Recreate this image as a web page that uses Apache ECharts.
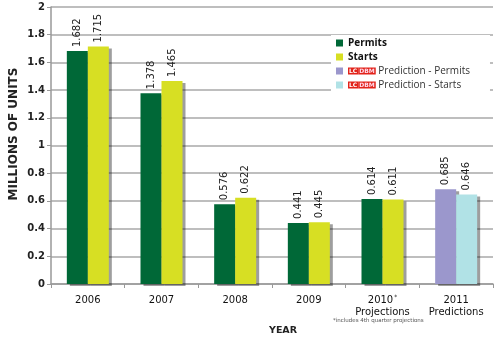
<!DOCTYPE html>
<html><head><meta charset="utf-8">
<script src="https://cdn.jsdelivr.net/npm/echarts@6/dist/echarts.min.js"></script>
<style>html,body{margin:0;padding:0;background:#fff}#c{width:500px;height:341px}</style>
</head><body><div id="c"></div>
<script>
const categories = ['2006','2007','2008','2009','2010','2011'];
const subLabels = ['','','','','Projections','Predictions'];
const permits = [1.682,1.378,0.576,0.441,0.614,'-'];
const starts = [1.715,1.465,0.622,0.445,0.611,'-'];
const predPermits = ['-','-','-','-','-',0.685];
const predStarts = ['-','-','-','-','-',0.646];
const yTicks = {min:0,max:2,interval:0.2};

const FONT = 'DejaVu Sans';
const LFONT = 'Open Sans';
const shadow = {shadowColor:'rgba(0,0,0,0.38)',shadowOffsetX:3,shadowOffsetY:2,shadowBlur:0};
const lbl = {show:true,position:'top',rotate:90,align:'left',verticalAlign:'middle',distance:4,
  fontFamily:FONT,fontSize:10,color:'#222',formatter:p=>p.value.toFixed(3)};

const chart = echarts.init(document.getElementById('c'),null,{renderer:'canvas'});
chart.setOption({
  animation:false,
  backgroundColor:'#fff',
  grid:{left:51,right:7,top:7,bottom:57},
  legend:{
    orient:'vertical',left:331,top:35,padding:[2,20,3,5],backgroundColor:'#fff',
    itemWidth:7,itemHeight:7,itemGap:2,icon:'rect',
    data:['Permits','Starts','Prediction - Permits','Prediction - Starts'],
    textStyle:{fontFamily:LFONT,fontSize:10,color:'#111',lineHeight:12,
      rich:{
        b:{fontFamily:LFONT,fontSize:10,fontWeight:'bold',color:'#111'},
        n:{fontFamily:LFONT,fontSize:10,color:'#333'},
        lc:{fontFamily:FONT,fontSize:6,fontWeight:'bold',color:'#fff',backgroundColor:'#e2231a',padding:[1,1,0,1]},
        dbm:{fontFamily:FONT,fontSize:6,fontWeight:'bold',color:'#fde',backgroundColor:'#e2231a',padding:[1,1,0,1]}
      }},
    formatter:n=>{
      if(n==='Permits'||n==='Starts') return '{b|'+n+'}';
      return '{lc|LC}{dbm|DBM}{n| '+n+'}';
    }
  },
  xAxis:{
    type:'category',data:categories,
    axisLine:{lineStyle:{color:'#999',width:1.5}},
    axisTick:{show:true,length:4,lineStyle:{color:'#999'}},
    axisLabel:{interval:0,margin:10,fontFamily:FONT,fontSize:10,color:'#111',lineHeight:12,
      formatter:(v,i)=>{
        const s = subLabels[i];
        if(v==='2010') return '{y|2010}{s|*}\n{y|'+s+'}';
        return s?('{y|'+v+'}\n{y|'+s+'}'):'{y|'+v+'}';
      },
      rich:{y:{fontFamily:FONT,fontSize:10,color:'#111',lineHeight:12},
            s:{fontFamily:FONT,fontSize:6,color:'#111',verticalAlign:'top',padding:[0,0,6,1]}}}
  },
  yAxis:{
    type:'value',min:yTicks.min,max:yTicks.max,interval:yTicks.interval,
    axisLine:{show:true,lineStyle:{color:'#999',width:1.5}},
    axisTick:{show:true,length:4,lineStyle:{color:'#999'}},
    splitLine:{lineStyle:{color:'#a8a8a8',width:1.5}},
    axisLabel:{margin:6,fontFamily:FONT,fontSize:10,fontWeight:'bold',color:'#222',
      formatter:v=>String(+v.toFixed(1))}
  },
  series:[
    {name:'Permits',type:'bar',stack:'p',data:permits,barWidth:21,barGap:'0%',
      itemStyle:Object.assign({color:'#006837'},shadow),label:lbl},
    {name:'Starts',type:'bar',stack:'s',data:starts,barWidth:21,barGap:'0%',
      itemStyle:Object.assign({color:'#d7df23'},shadow),label:lbl},
    {name:'Prediction - Permits',type:'bar',stack:'p',data:predPermits,barWidth:21,
      itemStyle:Object.assign({color:'#9b97cc'},shadow),label:lbl},
    {name:'Prediction - Starts',type:'bar',stack:'s',data:predStarts,barWidth:21,
      itemStyle:Object.assign({color:'#b1e2e6'},shadow),label:lbl}
  ],
  graphic:[
    {type:'text',x:14,y:134,rotation:Math.PI/2,
      style:{text:'MILLIONS OF UNITS',fontFamily:FONT,fontSize:12,fontWeight:'bold',fill:'#222',align:'center',verticalAlign:'middle'}},
    {type:'text',left:269,top:326,
      style:{text:'YEAR',fontFamily:FONT,fontSize:9.5,fontWeight:'bold',fill:'#222'}},
    {type:'text',left:333,top:318,
      style:{text:'*includes 4th quarter projections',fontFamily:FONT,fontSize:5.5,fill:'#555'}}
  ]
});
</script></body></html>
